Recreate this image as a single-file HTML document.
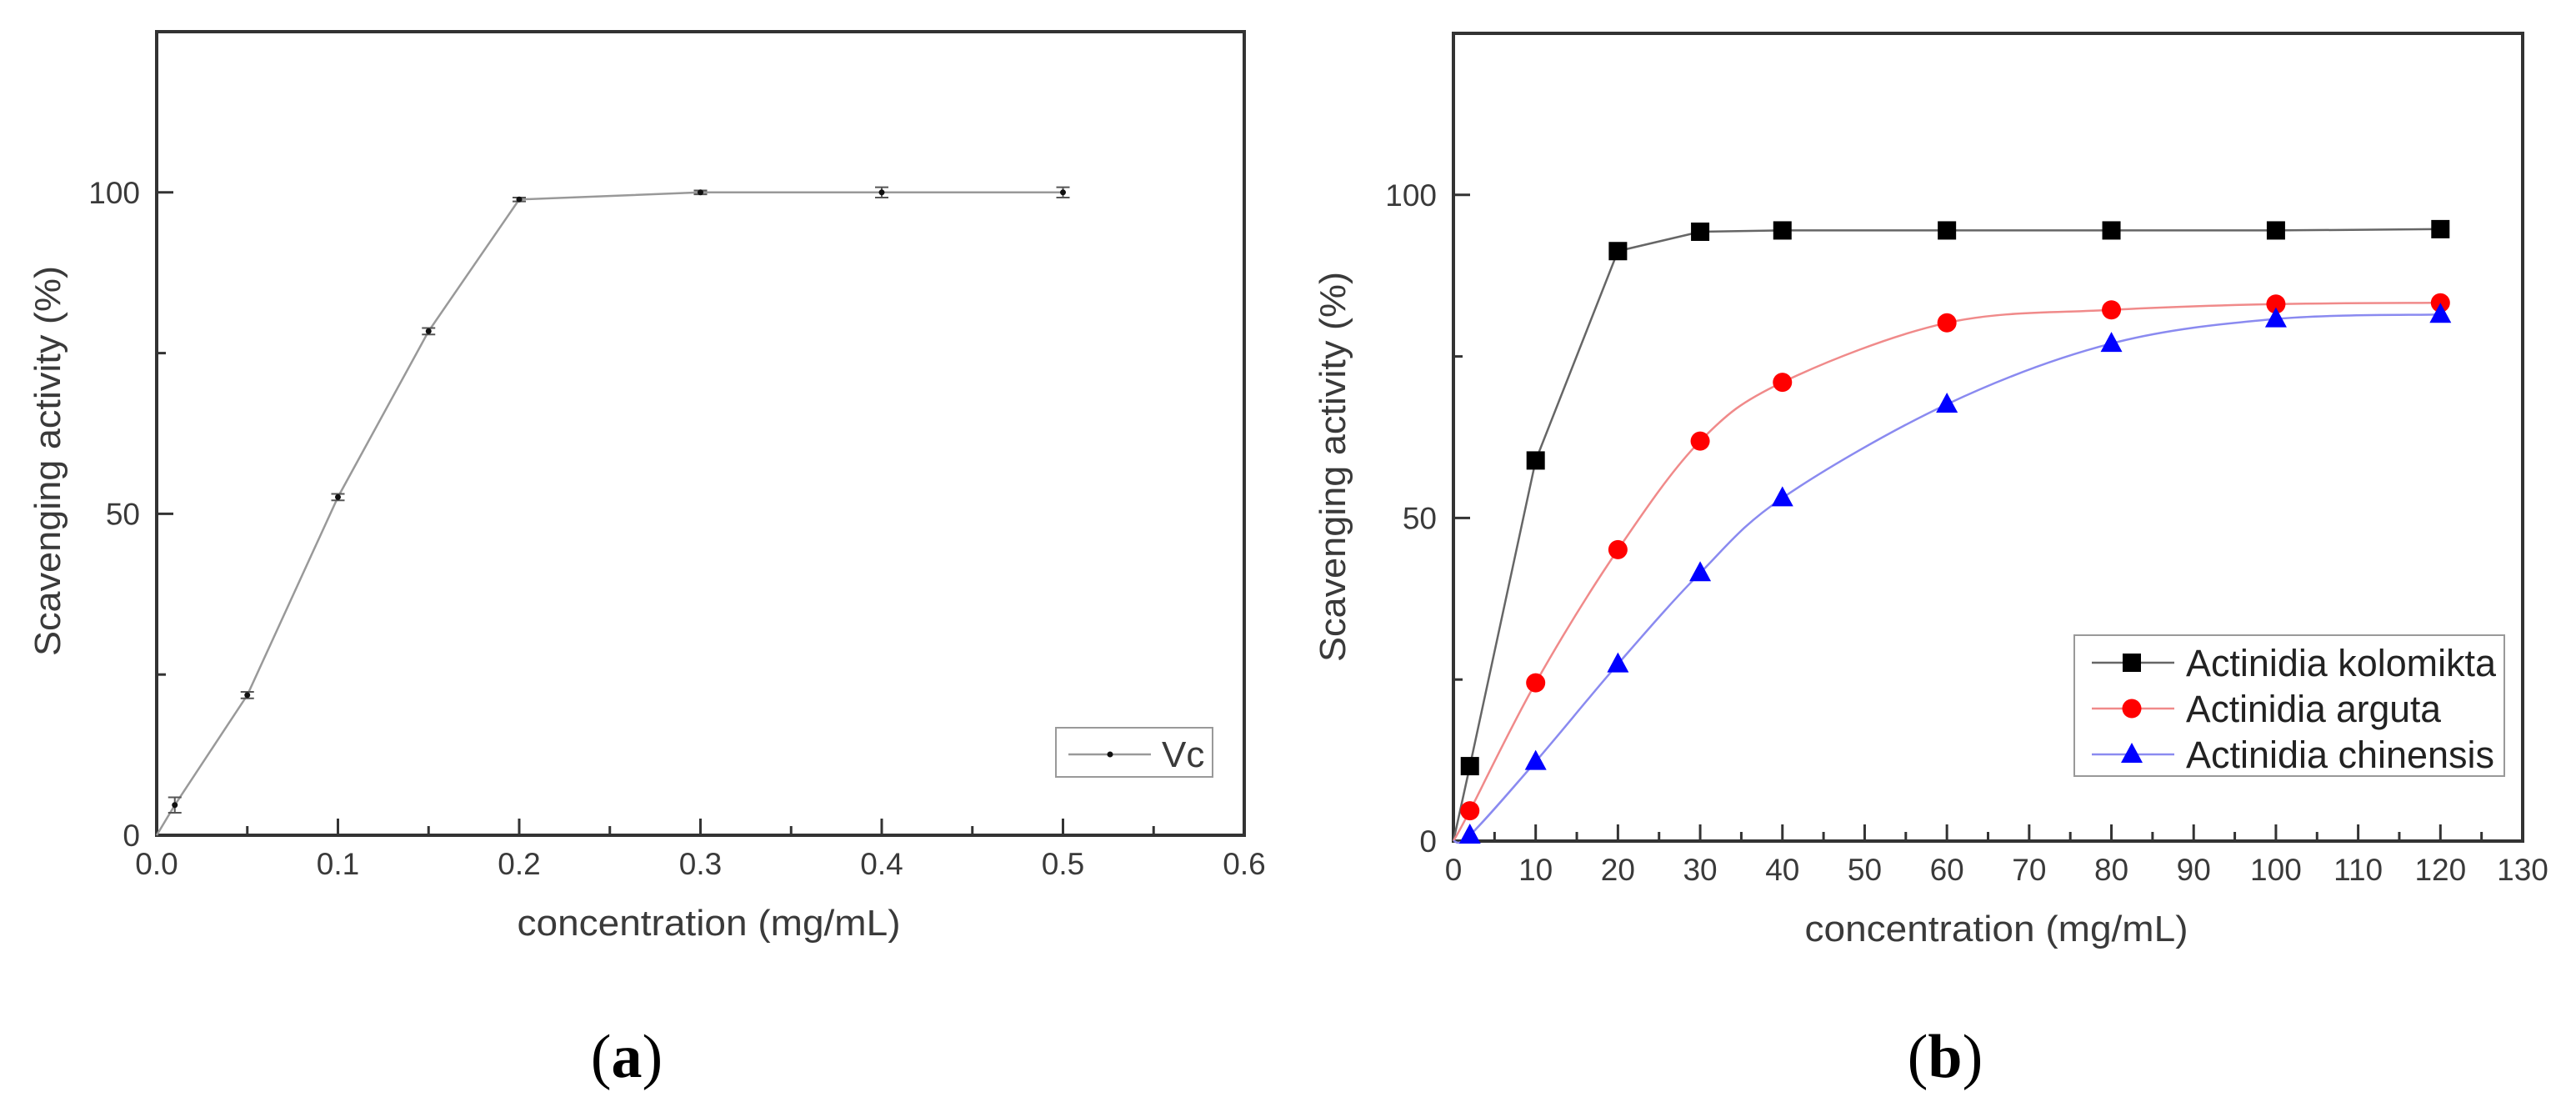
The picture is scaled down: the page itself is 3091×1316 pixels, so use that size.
<!DOCTYPE html>
<html><head><meta charset="utf-8"><style>
html,body{margin:0;padding:0;background:#fff;}
svg{display:block;}
text{font-family:"Liberation Sans",sans-serif;fill:#3a3a3a;}
</style></head><body>
<svg id="fig" width="3091" height="1316" viewBox="0 0 3091 1316" xmlns="http://www.w3.org/2000/svg"></svg>
<script>
// Panel (a) data
const aX = [0, 0.01, 0.05, 0.1, 0.15, 0.2, 0.3, 0.4, 0.5];
const aY = [0, 4.7, 21.8, 52.6, 78.4, 98.9, 100, 100, 100];
const aErr = [0, 1.2, 0.5, 0.5, 0.5, 0.3, 0.3, 0.8, 0.8];
const aXTicks = ["0.0","0.1","0.2","0.3","0.4","0.5","0.6"];
const aYTicks = ["0","50","100"];
// Panel (b) data
const bX = [2, 10, 20, 30, 40, 60, 80, 100, 120];
const bKolomikta = [11.6, 58.9, 91.3, 94.3, 94.5, 94.5, 94.5, 94.5, 94.7];
const bArguta = [4.7, 24.5, 45.1, 61.9, 71.0, 80.2, 82.2, 83.1, 83.3];
const bChinensis = [0.9, 12.3, 27.4, 41.5, 53.1, 67.6, 77.0, 80.8, 81.5];
const bXTicks = ["0","10","20","30","40","50","60","70","80","90","100","110","120","130"];
const bYTicks = ["0","50","100"];

const NS = "http://www.w3.org/2000/svg";
const svg = document.getElementById('fig');
function mk(tag, attrs, parent) {
  const e = document.createElementNS(NS, tag);
  for (const k in attrs) e.setAttribute(k, attrs[k]);
  (parent || svg).appendChild(e);
  return e;
}
function catmull(pts) {
  let d = "M" + pts[0][0] + "," + pts[0][1];
  for (let i = 0; i < pts.length - 1; i++) {
    const p0 = pts[Math.max(0, i - 1)], p1 = pts[i], p2 = pts[i + 1], p3 = pts[Math.min(pts.length - 1, i + 2)];
    const c1x = p1[0] + (p2[0] - p0[0]) / 6, c1y = p1[1] + (p2[1] - p0[1]) / 6;
    const c2x = p2[0] - (p3[0] - p1[0]) / 6, c2y = p2[1] - (p3[1] - p1[1]) / 6;
    d += " C" + c1x + "," + c1y + " " + c2x + "," + c2y + " " + p2[0] + "," + p2[1];
  }
  return d;
}

function frame(g, L, R, T, B, xTicks, xmin, xmax, xMinor, yTicks, ymax, xs, ys, titleX, titleY, letter, letterX) {
  mk('rect', {x: L, y: T, width: R - L, height: B - T, fill: 'none', stroke: '#333', 'stroke-width': 4}, g);
  // y ticks
  yTicks.forEach(t => {
    const v = +t, y = ys(v);
    const tk = mk('line', {x1: L, x2: L + 20, y1: y, y2: y, stroke: '#333', 'stroke-width': 3}, g);
    
    
    const lb = mk('text', {x: L - 20, y: y + 13, 'text-anchor': 'end', 'font-size': 37}, g);
    lb.textContent = t;
    
    
  });
  for (let v = 25; v < ymax; v += 50) {
    mk('line', {x1: L, x2: L + 11, y1: ys(v), y2: ys(v), stroke: '#333', 'stroke-width': 3}, g);
  }
  // x ticks
  xTicks.forEach(t => {
    const v = +t, x = xs(v);
    const tk = mk('line', {x1: x, x2: x, y1: B, y2: B - 20, stroke: '#333', 'stroke-width': 3}, g);
    
    
    const lb = mk('text', {x: x, y: B + 47, 'text-anchor': 'middle', 'font-size': 37}, g);
    lb.textContent = t;
    
    
  });
  for (let v = xmin + xMinor; v < xmax; v += 2 * xMinor) {
    mk('line', {x1: xs(v), x2: xs(v), y1: B, y2: B - 11, stroke: '#333', 'stroke-width': 3}, g);
  }
  const xt = mk('text', {x: (L + R) / 2 + 10, y: B + 120, 'text-anchor': 'middle', 'font-size': 44, textLength: 460, lengthAdjust: 'spacingAndGlyphs'}, g);
  xt.textContent = 'concentration (mg/mL)';
  
  
  const yt = mk('text', {x: 0, y: 0, 'text-anchor': 'middle', 'font-size': 44, textLength: 468, lengthAdjust: 'spacingAndGlyphs', transform: 'translate(' + titleX + ',' + titleY + ') rotate(-90)'}, g);
  yt.textContent = 'Scavenging activity (%)';
  
  
  const lt = mk('text', {x: letterX, y: 1292, 'text-anchor': 'middle', 'font-size': 74, style: 'font-family:"Liberation Serif",serif;fill:#000'}, g);
  lt.innerHTML = '(<tspan font-weight="bold">' + letter + '</tspan>)';
  
  
}

// ---------- Panel A ----------
const gA = mk('g', {});


const aL = 188, aR = 1493, aT = 38, aB = 1002;
const axs = v => aL + (v - 0) / 0.6 * (aR - aL);
const ays = v => aB - v / 125 * (aB - aT);
frame(gA, aL, aR, aT, aB, aXTicks, 0, 0.6, 0.05, aYTicks, 125, axs, ays, 72, 553, 'a', 752);
const aPts = aX.map((x, i) => [axs(x), ays(aY[i])]);
const aLine = mk('polyline', {points: aPts.map(p => p.join(',')).join(' '), fill: 'none', stroke: '#999', 'stroke-width': 2.5}, gA);


aX.forEach((x, i) => {
  if (i === 0) return;
  const cx = axs(x), cy = ays(aY[i]), e = aErr[i] / 125 * (aB - aT);
  const eb = mk('path', {d: `M${cx},${cy - e}V${cy + e}M${cx - 8},${cy - e}H${cx + 8}M${cx - 8},${cy + e}H${cx + 8}`, stroke: '#555', 'stroke-width': 2, fill: 'none'}, gA);
  
  
  const pt = mk('circle', {cx: cx, cy: cy, r: 3.5, fill: '#111'}, gA);
  
  
});
const legA = mk('g', {});


mk('rect', {x: 1267, y: 873, width: 188, height: 59, fill: '#fff', stroke: '#999', 'stroke-width': 2}, legA);
mk('line', {x1: 1282, x2: 1381, y1: 905, y2: 905, stroke: '#999', 'stroke-width': 2.5}, legA);
mk('circle', {cx: 1332, cy: 905, r: 3.5, fill: '#111'}, legA);
const vcT = mk('text', {x: 1394, y: 920, 'font-size': 44}, legA);
vcT.textContent = 'Vc';



// ---------- Panel B ----------
const gB = mk('g', {});


const bL = 1744, bR = 3027, bT = 40, bB = 1009;
const bxs = v => bL + v / 130 * (bR - bL);
const bys = v => bB - v / 125 * (bB - bT);
frame(gB, bL, bR, bT, bB, bXTicks, 0, 130, 5, bYTicks, 125, bxs, bys, 1614, 560, 'b', 2334);

const series = [
  {name: 'kolomikta', vals: bKolomikta, line: '#666', fill: '#000', m: 'square', smooth: false},
  {name: 'arguta', vals: bArguta, line: '#f08a8a', fill: '#f00', m: 'circle', smooth: true},
  {name: 'chinensis', vals: bChinensis, line: '#8a8af0', fill: '#00f', m: 'triangle', smooth: true}
];
function marker(g, type, cx, cy, fill) {
  if (type === 'square') return mk('rect', {x: cx - 11, y: cy - 11, width: 22, height: 22, fill: fill}, g);
  if (type === 'circle') return mk('circle', {cx: cx, cy: cy, r: 11.5, fill: fill}, g);
  return mk('polygon', {points: `${cx},${cy - 14} ${cx + 13},${cy + 10} ${cx - 13},${cy + 10}`, fill: fill}, g);
}
series.forEach(s => {
  const pts = [[bxs(0), bys(0)]].concat(bX.map((x, i) => [bxs(x), bys(s.vals[i])]));
  const d = s.smooth ? catmull(pts) : 'M' + pts.map(p => p.join(',')).join(' L');
  const ln = mk('path', {d: d, fill: 'none', stroke: s.line, 'stroke-width': 2.5}, gB);
  
  
});
series.forEach(s => {
  bX.forEach((x, i) => {
    const m = marker(gB, s.m, bxs(x), bys(s.vals[i]), s.fill);
    
    
  });
});
const legB = mk('g', {});


mk('rect', {x: 2489, y: 762, width: 516, height: 169, fill: '#fff', stroke: '#999', 'stroke-width': 2}, legB);
const legNames = ['Actinidia kolomikta', 'Actinidia arguta', 'Actinidia chinensis'];
const legLen = [372, 306, 370];
series.forEach((s, i) => {
  const y = 795 + i * 55;
  mk('line', {x1: 2510, x2: 2609, y1: y, y2: y, stroke: s.line, 'stroke-width': 2.5}, legB);
  marker(legB, s.m, 2558, y, s.fill);
  const t = mk('text', {x: 2623, y: y + 16, 'font-size': 45, textLength: legLen[i], lengthAdjust: 'spacingAndGlyphs', style: 'fill:#222'}, legB);
  t.textContent = legNames[i];
  
  
});
</script>
</body></html>
